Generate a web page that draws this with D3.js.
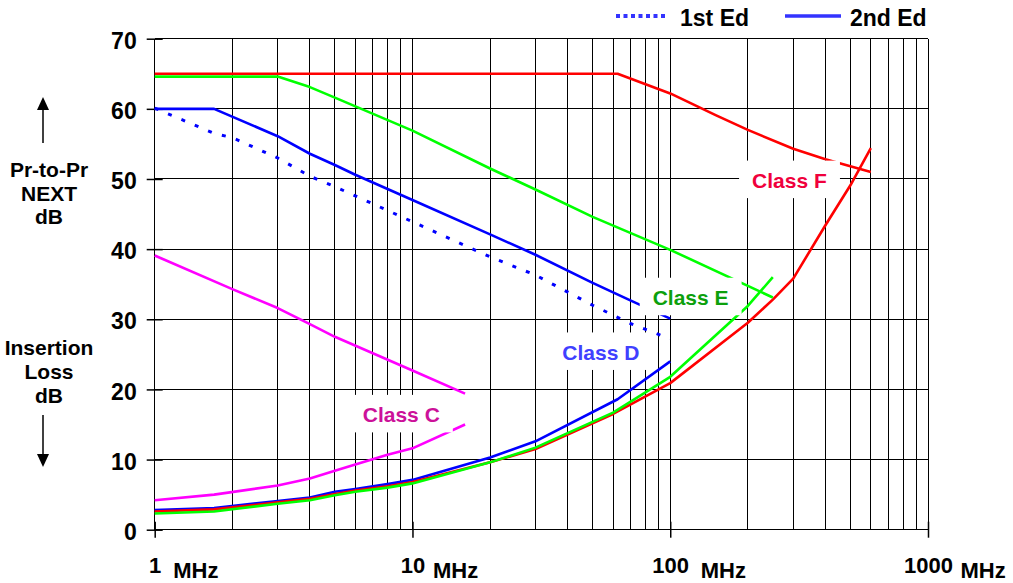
<!DOCTYPE html>
<html>
<head>
<meta charset="utf-8">
<script src="https://cdn.jsdelivr.net/npm/d3@7"></script>
<style>
  body { margin: 0; background: #fff; }
  svg { display: block; font-family: "Liberation Sans", Arial, sans-serif; font-weight: bold; }
</style>
</head>
<body>
<svg id="chart"></svg>
<script>
// Data: [frequency MHz, dB]
const nextF  = [[1,65],[62.5,65],[100,62.2],[150,59.1],[200,57.0],[300,54.3],[400,52.8],[600,51.0]];
const nextE  = [[1,64.6],[3,64.6],[4,63.1],[5,61.6],[10,56.9],[20,51.5],[30,48.5],[50,44.6],[100,39.9],[250,33.1]];
const nextD2 = [[1,60],[1.7,60],[3,56.1],[4,53.6],[5,52.0],[6,50.6],[10,47.0],[20,42.1],[30,39.2],[50,35.2],[70,32.7],[100,30.1]];
const nextD1 = [[1,60.1],[1.7,56.5],[2,55.9],[3,53.0],[4,50.4],[5,48.9],[6,47.6],[10,43.9],[20,38.9],[30,36.3],[50,32.0],[70,29.4],[100,27.2]];
const nextC  = [[1,39.1],[2,34.3],[3,31.6],[4,29.3],[5,27.5],[10,22.7],[16,19.4]];

const ilC = [[1,4.2],[1.7,5.0],[3,6.3],[4,7.3],[5,8.4],[6,9.3],[8,10.7],[10,11.6],[16,15.0]];
const ilD = [[1,2.8],[1.7,3.1],[3,4.1],[4,4.6],[5,5.4],[6,5.8],[8,6.5],[10,7.1],[20,10.3],[30,12.6],[62.5,18.6],[100,24.0]];
const ilE = [[1,2.3],[1.7,2.6],[3,3.7],[4,4.2],[5,4.9],[6,5.4],[8,6.0],[10,6.6],[20,9.6],[30,11.7],[60,16.7],[100,21.8],[200,31.9],[250,36.0]];
const ilF = [[1,2.6],[1.7,2.9],[3,3.9],[4,4.4],[5,5.1],[6,5.6],[8,6.2],[10,6.8],[20,9.6],[30,11.5],[60,16.5],[100,20.9],[200,29.5],[250,32.8],[300,35.8],[400,43.4],[500,49.1],[600,54.4]];

const xTickValues = [1, 10, 100, 1000];
const yTickValues = [0, 10, 20, 30, 40, 50, 60, 70];
const legendNames = ['1st Ed', '2nd Ed'];

// class labels, anchored in data units (centre, baseline)
const classLabels = [
  {text: 'Class F', f: 290,  db: 48.7, color: '#f0003c'},
  {text: 'Class E', f: 120,  db: 32.0, color: '#0ca00c'},
  {text: 'Class D', f: 53.8, db: 24.2, color: '#4040ff'},
  {text: 'Class C', f: 9.05, db: 15.3, color: '#cc1199'}
];

const W = 1013, H = 583;
const margin = {top: 38.7, left: 154.7, right: W - 928, bottom: H - 529.7};
const width = W - margin.left - margin.right;
const height = H - margin.top - margin.bottom;

const svg = d3.select('#chart').attr('width', W).attr('height', H);
svg.append('rect').attr('width', W).attr('height', H).attr('fill', '#fff');

const chart = svg.append('g')
    .attr('transform', `translate(${margin.left},${margin.top})`);

const x = d3.scaleLog().domain([1, 1000]).range([0, width]);
const y = d3.scaleLinear().domain([0, 70]).range([height, 0]);

// grid
const grid = chart.append('g').attr('stroke', '#000').attr('stroke-width', 1).attr('shape-rendering', 'crispEdges');
grid.selectAll('.vg').data(x.ticks()).join('line')
    .attr('x1', d => x(d)).attr('x2', d => x(d))
    .attr('y1', 0).attr('y2', height);
grid.selectAll('.hg').data(yTickValues).join('line')
    .attr('x1', 0).attr('x2', width)
    .attr('y1', d => y(d)).attr('y2', d => y(d));

// axes
const xAxis = d3.axisBottom(x).tickValues(xTickValues).tickSize(0).tickFormat(d3.format('d'));
const xAxisG = chart.append('g').attr('transform', `translate(0,${height})`).call(xAxis);
xAxisG.select('.domain').remove();
xAxisG.selectAll('.tick line').attr('y1', -8).attr('y2', 8).attr('stroke', '#000').attr('stroke-width', 1.5);
xAxisG.selectAll('.tick text')
    .attr('y', 43).attr('dy', null)
    .attr('font-size', 22).attr('fill', '#000')
    .style('font-family', 'inherit').style('font-weight', 'bold');
const mhzOffset = [18, 20, 30, 32];
xAxisG.selectAll('.tick').append('text')
    .attr('x', (d, i) => mhzOffset[i]).attr('y', 48)
    .attr('text-anchor', 'start').attr('font-size', 22).attr('fill', '#000')
    .text('MHz');

const yAxis = d3.axisLeft(y).tickValues(yTickValues).tickSize(0);
const yAxisG = chart.append('g').call(yAxis);
yAxisG.select('.domain').remove();
yAxisG.selectAll('.tick line').attr('x1', -8).attr('x2', 8).attr('stroke', '#000').attr('stroke-width', 1.5);
yAxisG.selectAll('.tick text')
    .attr('x', -18).attr('dy', '0.42em')
    .attr('font-size', 23).attr('fill', '#000')
    .style('font-family', 'inherit').style('font-weight', 'bold');

// lines
const line = d3.line().x(d => x(d[0])).y(d => y(d[1]));
const series = [
  {data: nextC,  color: '#ff00ff'},
  {data: ilC,    color: '#ff00ff'},
  {data: nextD1, color: '#0000ff', dash: '4,10.5', w: 3},
  {data: nextD2, color: '#0000ff'},
  {data: ilD,    color: '#0000ff'},
  {data: nextF,  color: '#ff0000'},
  {data: ilF,    color: '#ff0000'},
  {data: nextE,  color: '#00ff00'},
  {data: ilE,    color: '#00ff00'}
];
chart.selectAll('.series').data(series).join('path')
    .attr('class', 'series')
    .attr('fill', 'none')
    .attr('stroke', d => d.color)
    .attr('stroke-width', d => d.w || 2.6)
    .attr('stroke-dasharray', d => d.dash || null)
    .attr('stroke-linejoin', 'round')
    .attr('d', d => line(d.data));

// class labels on white boxes
const lab = chart.selectAll('.lab').data(classLabels).join('g').attr('class', 'lab');
lab.append('text')
    .attr('x', d => x(d.f)).attr('y', d => y(d.db))
    .attr('text-anchor', 'middle').attr('font-size', 21)
    .attr('fill', d => d.color)
    .text(d => d.text);
lab.each(function() {
  const g = d3.select(this);
  const t = g.select('text');
  const bb = t.node().getBBox();
  const base = +t.attr('y');
  g.insert('rect', 'text')
      .attr('x', bb.x - 13).attr('width', bb.width + 26)
      .attr('y', base - 27.5).attr('height', 37.5)
      .attr('fill', '#fff');
});

// side annotations
const side = svg.append('g').attr('text-anchor', 'middle').attr('font-size', 21).attr('fill', '#000');
[['Pr-to-Pr', 177], ['NEXT', 201], ['dB', 224], ['Insertion', 355], ['Loss', 379], ['dB', 403]]
  .forEach(([t, yy]) => side.append('text').attr('x', 49).attr('y', yy).text(t));

const arrows = svg.append('g').attr('stroke', '#000').attr('fill', '#000');
arrows.append('line').attr('x1', 43).attr('x2', 43).attr('y1', 143).attr('y2', 108).attr('stroke-width', 1.5);
arrows.append('path').attr('d', 'M43,97 L37,110 L49,110 Z').attr('stroke', 'none');
arrows.append('line').attr('x1', 43).attr('x2', 43).attr('y1', 415).attr('y2', 456).attr('stroke-width', 1.5);
arrows.append('path').attr('d', 'M43,467 L37,454 L49,454 Z').attr('stroke', 'none');

// legend
const legend = svg.append('g').attr('font-size', 23).attr('fill', '#000');
legend.append('line').attr('x1', 616).attr('x2', 668).attr('y1', 16).attr('y2', 16)
    .attr('stroke', '#3333ff').attr('stroke-width', 4).attr('stroke-dasharray', '4,3.5');
legend.append('text').attr('x', 680).attr('y', 26).text(legendNames[0]);
legend.append('line').attr('x1', 785).attr('x2', 841).attr('y1', 16).attr('y2', 16)
    .attr('stroke', '#3333ff').attr('stroke-width', 3.5);
legend.append('text').attr('x', 850).attr('y', 26).text(legendNames[1]);
</script>
</body>
</html>
